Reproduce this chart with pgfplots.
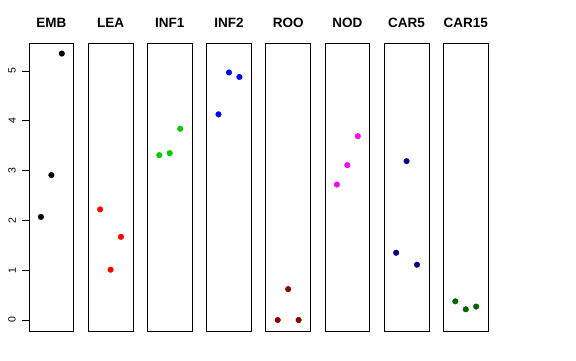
\documentclass[border=0pt]{standalone}
\usepackage{pgfplots}
\pgfplotsset{compat=1.18}
\usepackage{fontspec}
\setmainfont{Liberation Sans}
\definecolor{rgreen}{RGB}{0,205,0}
\definecolor{rdarkred}{RGB}{139,0,0}
\definecolor{rnavy}{RGB}{0,0,128}
\definecolor{rdarkgreen}{RGB}{0,100,0}
\definecolor{rmagenta}{RGB}{255,0,255}
\pgfplotsset{
  panel/.style={
    scale only axis, width=44.7pt, height=288pt,
    anchor=south west,
    xmin=-2.14, xmax=2.14, ymin=-0.221, ymax=5.562,
    xtick=\empty, ytick=\empty,
    axis line style={line width=0.8pt},
    title style={font=\bfseries\fontsize{13.5}{15}\selectfont, at={(0.5,1)}, anchor=base, yshift=9pt},
    clip=false,
  },
  pts/.style={only marks, mark=*, mark size=2.8pt, mark options={draw=#1, fill=#1}},
}
\begin{document}
\begin{tikzpicture}
\useasboundingbox (0,0) rectangle (576pt,360pt);
\begin{axis}[panel, at={(29pt,29pt)}, title={EMB},
  ytick={0,1,2,3,4,5}, ytick pos=left, tick align=outside, major tick length=7pt,
  tick style={line width=0.8pt, black},
  /pgf/number format/assume math mode=true,
  yticklabel style={rotate=90, anchor=south, inner xsep=0pt, inner ysep=6pt, font=\fontsize{10.5}{12}\selectfont}]
\addplot[pts=black] coordinates {(-1,2.07) (0,2.91) (1,5.35)};
\end{axis}
\begin{axis}[panel, at={(88.2pt,29pt)}, title={LEA}]
\addplot[pts=red] coordinates {(-1,2.22) (0,1.01) (1,1.67)};
\end{axis}
\begin{axis}[panel, at={(147.4pt,29pt)}, title={INF1}]
\addplot[pts=rgreen] coordinates {(-1,3.31) (0,3.35) (1,3.84)};
\end{axis}
\begin{axis}[panel, at={(206.6pt,29pt)}, title={INF2}]
\addplot[pts=blue] coordinates {(-1,4.13) (0,4.97) (1,4.88)};
\end{axis}
\begin{axis}[panel, at={(265.8pt,29pt)}, title={ROO}]
\addplot[pts=rdarkred] coordinates {(-1,0.0) (0,0.62) (1,0.0)};
\end{axis}
\begin{axis}[panel, at={(325.0pt,29pt)}, title={NOD}]
\addplot[pts=rmagenta] coordinates {(-1,2.72) (0,3.11) (1,3.69)};
\end{axis}
\begin{axis}[panel, at={(384.2pt,29pt)}, title={CAR5}]
\addplot[pts=rnavy] coordinates {(-1,1.35) (0,3.19) (1,1.11)};
\end{axis}
\begin{axis}[panel, at={(443.4pt,29pt)}, title={CAR15}]
\addplot[pts=rdarkgreen] coordinates {(-1,0.375) (0,0.215) (1,0.27)};
\end{axis}
\end{tikzpicture}
\end{document}
